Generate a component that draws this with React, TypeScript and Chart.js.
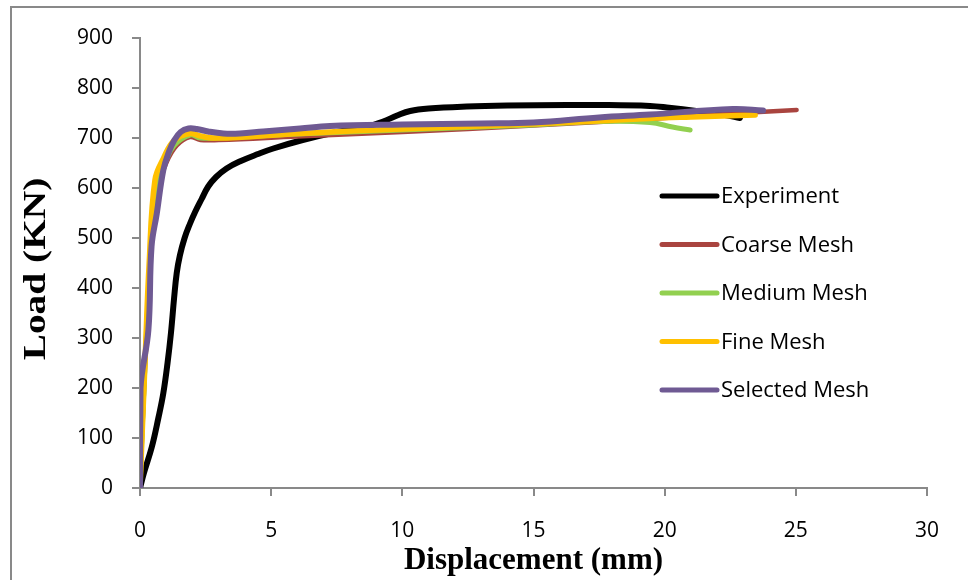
import React, { useEffect, useRef } from "react";
import { Chart, registerables } from "chart.js";

Chart.register(...registerables);

// ---- data ----
const seriesNames = ["Experiment", "Coarse Mesh", "Medium Mesh", "Fine Mesh", "Selected Mesh"];
const seriesColors = ["#000000", "#A9443F", "#92D050", "#FFC000", "#6F5A93"];
const seriesWidths = [6, 4.5, 5, 5.5, 6];

const expX = [0, 0.15, 0.45, 0.7, 0.89, 1.05, 1.18, 1.3, 1.4, 1.52, 1.7, 1.9, 2.1, 2.35, 2.6, 2.9, 3.3, 3.8, 4.5, 5.08, 6.2, 7.5, 8.6, 9.27, 9.8, 10.3, 11, 12.45, 14, 16.27, 17.5, 19.44, 20.08, 21.35, 22.3, 22.87];
const expY = [0, 30, 82, 140, 190, 250, 310, 380, 430, 465, 500, 528, 552, 578, 603, 622, 639, 653, 668, 679, 696, 712, 722, 733, 745, 754, 759, 763, 765, 766, 766, 764, 761, 753, 746, 740];

const coarseX = [0, 0.2, 0.45, 0.7, 1, 1.4, 1.9, 2.3, 3, 6, 10, 15, 20, 23.25, 25.03];
const coarseY = [0, 250, 490, 600, 650, 685, 702, 696, 696, 703, 712, 725, 740, 751, 756];

const mediumX = [0, 0.2, 0.45, 0.7, 0.95, 1.3, 1.9, 2.3, 3, 6, 10, 15, 17.5, 19.44, 20.3, 20.97];
const mediumY = [0, 260, 500, 620, 650, 685, 706, 700, 700, 708, 716, 726, 733, 731, 722, 716];

const fineX = [0, 0.19, 0.35, 0.57, 0.9, 1.3, 1.9, 2.3, 2.78, 4, 6.1, 10, 15, 19.4, 21, 23.45];
const fineY = [0, 250, 450, 616, 660, 695, 709, 704, 700, 702, 709, 718, 728, 739, 742, 746];

const selX = [0, 0.02, 0.32, 0.44, 0.64, 0.89, 1.1, 1.3, 1.55, 1.85, 2.16, 2.6, 3.18, 3.8, 4.7, 6.1, 7.24, 10, 13, 15, 17.5, 19.44, 22.6, 23.75];
const selY = [0, 200, 316, 483, 549, 636, 672, 695, 712, 719, 718, 713, 709, 709, 713, 719, 724, 727, 729, 731, 741, 747, 758, 755];

const seriesX = [expX, coarseX, mediumX, fineX, selX];
const seriesY = [expY, coarseY, mediumY, fineY, selY];

const xTitle = "Displacement (mm)";
const yTitle = "Load (KN)";
const xMin = 0, xMax = 30, xStep = 5;
const yMin = 0, yMax = 900, yStep = 100;

const AXIS_GRAY = "#898989";
const TICK_FONT = { family: "'Open Sans', sans-serif", size: 21 };
const TITLE_FONT = { family: "'Liberation Serif', 'Times New Roman', serif", size: 31, weight: "bold" as const };

const legendPlugin = {
  id: "innerLegend",
  afterDatasetsDraw(chart: any) {
    const ctx = chart.ctx;
    const x0 = 662, x1 = 717, tx = 721, y0 = 196, dy = 48.5;
    ctx.save();
    seriesNames.forEach((name, i) => {
      const y = y0 + i * dy;
      ctx.beginPath();
      ctx.lineCap = "round";
      ctx.lineWidth = 5;
      ctx.strokeStyle = seriesColors[i];
      ctx.moveTo(x0, y);
      ctx.lineTo(x1, y);
      ctx.stroke();
      ctx.fillStyle = "#000";
      ctx.font = "22px 'Open Sans', sans-serif";
      ctx.textAlign = "left";
      ctx.textBaseline = "middle";
      ctx.fillText(name, tx, y + 1);
    });
    ctx.restore();
  },
};

const yTitlePlugin = {
  id: "yTitle",
  afterDraw(chart: any) {
    const ctx = chart.ctx;
    const area = chart.chartArea;
    ctx.save();
    ctx.translate(37, (area.top + area.bottom) / 2 + 6);
    ctx.rotate(-Math.PI / 2);
    ctx.scale(1.27, 1);
    ctx.fillStyle = "#000";
    ctx.font = "bold 31px 'Liberation Serif', 'Times New Roman', serif";
    ctx.textAlign = "center";
    ctx.textBaseline = "middle";
    ctx.fillText(yTitle, 0, 0);
    ctx.restore();
  },
};

export default function App() {
  const ref = useRef<HTMLCanvasElement | null>(null);
  useEffect(() => {
    if (!ref.current) return;
    const datasets = seriesNames.map((name, i) => ({
      label: name,
      data: seriesX[i].map((x, j) => ({ x, y: seriesY[i][j] })),
      borderColor: seriesColors[i],
      backgroundColor: seriesColors[i],
      borderWidth: seriesWidths[i],
      pointRadius: 0,
      showLine: true,
      fill: false,
      tension: 0.4,
      borderCapStyle: "round" as const,
      borderJoinStyle: "round" as const,
      order: seriesNames.length - i,
    }));
    const chart = new Chart(ref.current, {
      type: "scatter",
      data: { datasets },
      plugins: [legendPlugin, yTitlePlugin],
      options: {
        animation: false,
        responsive: false,
        events: [],
        layout: { padding: { left: 12, right: 41, top: 38, bottom: 0 } },
        plugins: { legend: { display: false }, tooltip: { enabled: false } },
        scales: {
          x: {
            type: "linear",
            min: xMin,
            max: xMax,
            afterFit: (s: any) => { s.height = 92; },
            ticks: { stepSize: xStep, color: "#000", font: TICK_FONT, padding: 22, maxRotation: 0 },
            grid: { drawOnChartArea: false, drawTicks: true, tickLength: 8, color: AXIS_GRAY, lineWidth: 2 },
            border: { display: true, color: AXIS_GRAY, width: 2 },
            title: { display: true, text: xTitle, color: "#000", font: TITLE_FONT, padding: { top: 0, bottom: 0 } },
          },
          y: {
            type: "linear",
            min: yMin,
            max: yMax,
            afterFit: (s: any) => { s.width = 128; },
            ticks: { stepSize: yStep, color: "#000", font: TICK_FONT, padding: 19 },
            grid: { drawOnChartArea: false, drawTicks: true, tickLength: 8, color: AXIS_GRAY, lineWidth: 2 },
            border: { display: true, color: AXIS_GRAY, width: 2 },
            title: { display: false },
          },
        },
      },
    });
    return () => chart.destroy();
  }, []);

  return (
    <div style={{ position: "fixed", left: 0, top: 0, width: 968, height: 580, background: "#fff", overflow: "hidden" }}>
      <div style={{ position: "absolute", left: 10, top: 6, width: 958, height: 574, borderLeft: `2px solid ${AXIS_GRAY}`, borderTop: `2px solid ${AXIS_GRAY}` }} />
      <canvas ref={ref} width={968} height={580} style={{ position: "absolute", left: 0, top: 0 }} />
    </div>
  );
}
